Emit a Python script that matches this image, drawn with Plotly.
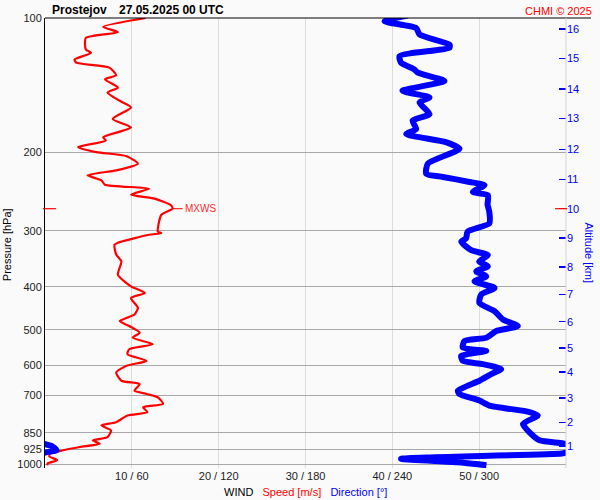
import numpy as np
import plotly.graph_objects as go

# ---------------- data ----------------
SPEED_P = [100, 104.7, 107.6, 110.8, 117.6, 119.7, 123.9, 125.9, 129.2, 134.4,
           137.2, 143.2, 146.9, 153.3, 158.6, 168.4, 175.8, 185.0, 188.2, 194.7,
           199.8, 204.0, 212.1, 219.5, 225.1, 231.1, 236.3, 241.2, 248.8, 254.0,
           262.7, 267.5, 276.0, 301.1, 303.4, 306.0, 318.7, 322.3, 338.8, 351.2,
           376.1, 399.3, 413.2, 424.0, 446.3, 461.6, 477.7, 490.1, 507.3, 520.5,
           538.4, 552.5, 566.8, 586.5, 601.7, 622.7, 649.9, 661.1, 684.1, 695.8,
           708.0, 732.4, 745.1, 764.4, 777.6, 804.8, 818.5, 839.8, 869.4, 884.0,
           899.5, 915.0, 930.5, 946.6, 960.0, 979.5, 995.8, 1006.0]
SPEED = [11.6, 6.7, 8.4, 4.7, 4.7, 5.3, 3.4, 3.6, 7.4, 8.2,
         6.9, 8.4, 7.2, 8.6, 9.9, 7.8, 9.9, 6.7, 7.0, 3.8,
         5.9, 9.4, 10.7, 8.2, 4.9, 6.5, 6.9, 12.0, 9.9, 12.6,
         14.5, 14.7, 13.4, 13.0, 13.4, 12.0, 8.4, 8.0, 8.2, 8.8,
         8.4, 9.9, 11.5, 9.9, 10.7, 10.3, 8.6, 9.7, 10.9, 10.1,
         12.4, 9.7, 9.5, 11.7, 9.4, 8.2, 8.8, 10.9, 10.3, 11.7,
         13.0, 13.6, 11.3, 11.8, 9.5, 8.2, 6.5, 7.6, 7.2, 5.5,
         6.3, 4.0, 2.1, 0.6, 0.5, 1.4, 0.3, 0.3]

DIR_P = [98.8, 101.7, 105.3, 108.9, 114.7, 116.6, 121.7, 125.9, 130.3, 132.6,
         138.4, 145.6, 150.7, 154.6, 164.2, 169.8, 177.3, 182.0, 189.8, 196.3,
         205.0, 212.1, 223.3, 227.1, 233.0, 237.0, 245.3, 249.5, 262.1, 271.8,
         288.5, 301.1, 311.5, 317.0, 331.4, 339.8, 351.2, 360.3, 369.7, 379.3,
         389.1, 402.7, 416.7, 434.9, 453.9, 473.6, 490.1, 502.9, 520.5, 529.3,
         547.8, 557.2, 571.7, 586.5, 596.5, 612.1, 628.0, 649.9, 684.1, 695.8,
         720.0, 738.7, 763.8, 777.6, 812.4, 848.3, 884.0, 898.0, 912.0, 930.5,
         940.0, 946.0, 972.0, 990.0, 1005.0]
DIRECTION = [250.7, 234.6, 256.5, 258.8, 279.5, 279.5, 245.0, 246.0, 255.0, 257.6,
             276.0, 247.0, 265.7, 258.8, 265.7, 254.0, 256.5, 249.6, 277.0, 286.4,
             273.8, 264.5, 263.4, 274.9, 293.3, 303.7, 295.6, 306.0, 305.8, 307.0,
             307.0, 292.0, 291.0, 287.6, 294.5, 306.0, 300.0, 306.0, 298.0, 304.9,
             296.8, 310.6, 301.4, 300.2, 310.6, 316.3, 326.7, 311.8, 304.9, 289.9,
             288.7, 304.9, 287.6, 288.7, 302.5, 315.2, 308.3, 300.2, 285.3, 286.4,
             300.2, 307.1, 334.8, 340.5, 330.2, 334.8, 341.7, 358.0, 365.0, 368.0,
             361.0, 357.0, 246.0, 285.0, 305.0]

PRESSURE_TICKS = [100, 200, 300, 400, 500, 600, 700, 850, 925, 1000]
ALT_KM = list(range(1, 17))
ALT_P = [910.8, 805.3, 709.6, 621.1, 549.2, 479.2, 416.4, 361.5, 311.5, 267.5,
         230.2, 197.0, 167.8, 144.1, 123.2, 105.8]
X_TICKS = [10, 20, 30, 40, 50, 60]
X_LABELS = ["10 / 60", "20 / 120", "30 / 180", "40 / 240", "50 / 300", ""]

STATION = "Prostejov"
DATE_TEXT = "27.05.2025 00 UTC"
CREDIT = "CHMI © 2025"

# ---------------- figure ----------------
FONT = "Liberation Sans, Arial, sans-serif"
RED = "#ff0000"
BLUE = "#0000ff"
BG = "#fafafa"
P_TOP, P_BOTTOM = 100, 1019.5
y_range = [np.log10(P_BOTTOM), np.log10(P_TOP)]

fig = go.Figure()
fig.add_trace(go.Scatter(
    x=SPEED, y=SPEED_P, mode="lines", xaxis="x", yaxis="y",
    line=dict(color=RED, width=2.2, shape="spline", smoothing=0.6),
    hoverinfo="skip", showlegend=False))

dir_arr = np.array(DIRECTION)
for shift in (0, 360):  # wrap-around past 360 degrees
    fig.add_trace(go.Scatter(
        x=dir_arr - shift, y=DIR_P, mode="lines", xaxis="x2", yaxis="y2",
        line=dict(color=BLUE, width=6, shape="spline", smoothing=0.6),
        hoverinfo="skip", showlegend=False))

# maximum wind
imax = int(np.argmax(SPEED))
mx_speed, mx_p = SPEED[imax], SPEED_P[imax]
mx_paper = (np.log10(P_BOTTOM) - np.log10(mx_p)) / (np.log10(P_BOTTOM) - np.log10(P_TOP))

fig.update_layout(
    width=600, height=500,
    margin=dict(l=45, r=34, t=15, b=32),
    paper_bgcolor=BG, plot_bgcolor=BG,
    font=dict(family=FONT, size=11, color="#222"),
    showlegend=False,
    xaxis=dict(range=[0, 60], tickvals=X_TICKS, ticktext=X_LABELS,
               showgrid=True, gridcolor="#dcdcdc", gridwidth=1,
               zeroline=False, showline=False, ticks="",
               tickfont=dict(size=11, color="#222")),
    xaxis2=dict(range=[0, 360], overlaying="x", anchor="y2", visible=False),
    yaxis=dict(type="log", range=y_range, tickvals=PRESSURE_TICKS,
               ticktext=[str(p) for p in PRESSURE_TICKS],
               showgrid=True, gridcolor="#a8a8a8", gridwidth=1,
               zeroline=False, showline=True, linecolor="#000", linewidth=1,
               ticks="", tickfont=dict(size=11, color="#222")),
    yaxis2=dict(type="log", range=y_range, overlaying="y", side="right",
                anchor="x",
                tickvals=ALT_P, ticktext=[str(a) for a in ALT_KM],
                showgrid=False, showline=False, zeroline=False,
                ticks="inside", ticklen=7, tickwidth=1.5, tickcolor=BLUE,
                tickfont=dict(size=11, color=BLUE)),
)

shapes = [
    # top border
    dict(type="line", xref="paper", yref="paper", x0=0, x1=1.048, y0=1, y1=1,
         line=dict(color="#000", width=1.2)),
    # right edge (60 / 360)
    dict(type="line", xref="paper", yref="paper", x0=1, x1=1, y0=0, y1=1,
         line=dict(color="#d4d4d4", width=1)),
    # MXWS level marks
    dict(type="line", xref="paper", yref="paper", x0=-0.004, x1=0.021,
         y0=mx_paper, y1=mx_paper, line=dict(color=RED, width=1.2)),
    dict(type="line", xref="paper", yref="paper", x0=0.979, x1=1.002,
         y0=mx_paper, y1=mx_paper, line=dict(color=RED, width=1.2)),
]
fig.update_layout(shapes=shapes)

annotations = [
    dict(x=mx_speed, y=np.log10(mx_p), xref="x", yref="y", text="MXWS",
         showarrow=True, arrowhead=0, arrowwidth=1, arrowcolor=RED,
         ax=10, ay=0, xanchor="left", font=dict(size=10, color="#ff2a2a")),
    dict(x=0.0096, y=1.0177, xref="paper", yref="paper", text="<b>%s</b>" % STATION,
         showarrow=False, xanchor="left", yanchor="middle",
         font=dict(size=12, color="#000")),
    dict(x=0.1382, y=1.0177, xref="paper", yref="paper", text="<b>%s</b>" % DATE_TEXT,
         showarrow=False, xanchor="left", yanchor="middle",
         font=dict(size=12, color="#000")),
    dict(x=1.0537, y=1.0155, xref="paper", yref="paper", text=CREDIT,
         showarrow=False, xanchor="right", yanchor="middle",
         font=dict(size=11, color=RED)),
    dict(x=-0.0716, y=0.4967, xref="paper", yref="paper", text="Pressure [hPa]",
         showarrow=False, textangle=-90, xanchor="center", yanchor="middle",
         font=dict(size=11, color="#000")),
    dict(x=1.0441, y=0.4768, xref="paper", yref="paper", text="Altitude [km]",
         showarrow=False, textangle=90, xanchor="center", yanchor="middle",
         font=dict(size=11, color=BLUE)),
    dict(x=0.5, y=-0.053, xref="paper", yref="paper",
         text="WIND\u00a0\u00a0 <span style='color:#ff0000'>Speed [m/s]</span>\u00a0\u00a0 "
              "<span style='color:#0000ff'>Direction [°]</span>",
         showarrow=False, xanchor="center", yanchor="middle",
         font=dict(size=11, color="#000")),
]
fig.update_layout(annotations=annotations)

fig.write_html("out.html",
               config={"displayModeBar": False, "staticPlot": True},
               post_script="document.body.style.margin='0';"
                           "document.body.style.padding='0';"
                           "document.body.style.background='%s';" % BG)
